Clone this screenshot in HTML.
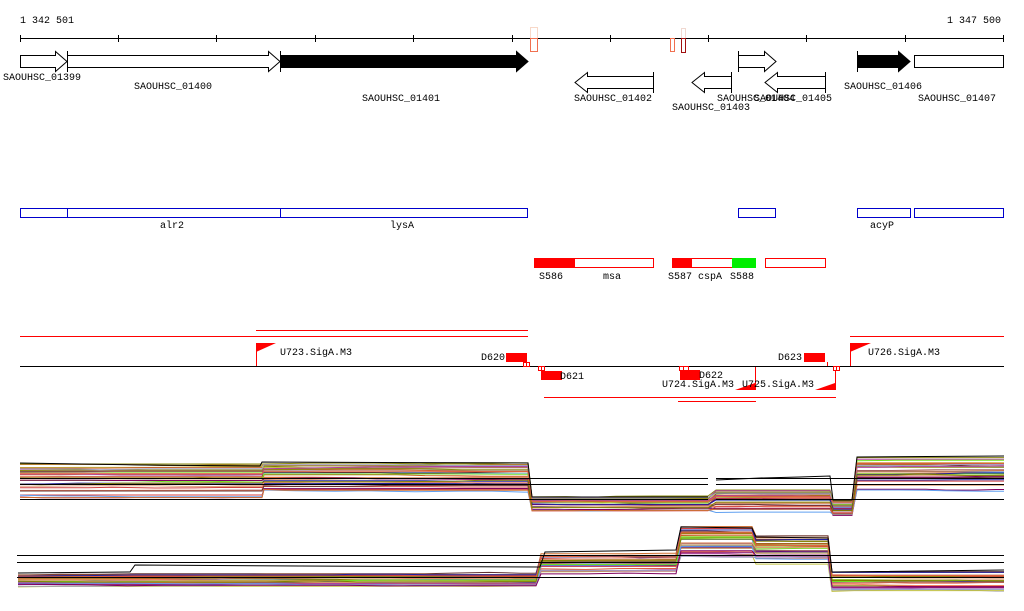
<!DOCTYPE html>
<html><head><meta charset="utf-8"><style>
html,body{margin:0;padding:0;background:#fff;}
svg{display:block;}
text{font-family:"Liberation Mono",monospace;font-size:10px;fill:#000;}
</style></head><body>
<svg id="s" width="1024" height="611" xmlns="http://www.w3.org/2000/svg">
<text x="20" y="23">1 342 501</text>
<text x="947" y="23">1 347 500</text>
<line x1="20" y1="38.5" x2="1004" y2="38.5" stroke="#000"/>
<g stroke="#000">
<line x1="20.5" y1="35" x2="20.5" y2="42"/><line x1="118.5" y1="35" x2="118.5" y2="42"/><line x1="216.5" y1="35" x2="216.5" y2="42"/><line x1="315.5" y1="35" x2="315.5" y2="42"/><line x1="413.5" y1="35" x2="413.5" y2="42"/><line x1="512.5" y1="35" x2="512.5" y2="42"/><line x1="610.5" y1="35" x2="610.5" y2="42"/><line x1="708.5" y1="35" x2="708.5" y2="42"/><line x1="806.5" y1="35" x2="806.5" y2="42"/><line x1="905.5" y1="35" x2="905.5" y2="42"/><line x1="1003.5" y1="35" x2="1003.5" y2="42"/>
</g>
<rect x="530.5" y="27.5" width="7" height="11" fill="none" stroke="#f8d8c8"/>
<rect x="530.5" y="38.5" width="7" height="13" fill="none" stroke="#f07050"/>
<rect x="670.5" y="38.5" width="4" height="13" fill="none" stroke="#f07050"/>
<rect x="681.5" y="28.5" width="4" height="10" fill="none" stroke="#f0d8d0"/>
<rect x="681.5" y="38.5" width="4" height="14" fill="none" stroke="#a01010"/>
<g stroke="#000" stroke-width="1">
<path d="M20.5,55.5H55.5V51.5L67,61.5L55.5,71.5V67.5H20.5Z" fill="#fff"/>
<path d="M67.5,55.5H268.5V51.5L280,61.5L268.5,71.5V67.5H67.5Z" fill="#fff"/>
<line x1="67.5" y1="51" x2="67.5" y2="72"/>
<path d="M280.5,55.5H516.5V51.5L528,61.5L516.5,71.5V67.5H280.5Z" fill="#000"/>
<line x1="280.5" y1="51" x2="280.5" y2="72"/>
<path d="M653.5,76.5H587.5V72.5L575,82.5L587.5,92.5V88.5H653.5Z" fill="#fff"/>
<line x1="653.5" y1="72" x2="653.5" y2="93"/>
<path d="M731.5,76.5H704.5V72.5L692,82.5L704.5,92.5V88.5H731.5Z" fill="#fff"/>
<line x1="731.5" y1="72" x2="731.5" y2="93"/>
<path d="M738.5,55.5H764.5V51.5L776,61.5L764.5,71.5V67.5H738.5Z" fill="#fff"/>
<line x1="738.5" y1="51" x2="738.5" y2="72"/>
<path d="M825.5,76.5H777.5V72.5L765,82.5L777.5,92.5V88.5H825.5Z" fill="#fff"/>
<line x1="825.5" y1="72" x2="825.5" y2="93"/>
<path d="M857.5,55.5H898.5V51.5L910,61.5L898.5,71.5V67.5H857.5Z" fill="#000"/>
<line x1="857.5" y1="51" x2="857.5" y2="72"/>
<rect x="914.5" y="55.5" width="89" height="12" fill="#fff"/>
</g>
<text x="3" y="80">SAOUHSC_01399</text>
<text x="134" y="89">SAOUHSC_01400</text>
<text x="362" y="101">SAOUHSC_01401</text>
<text x="574" y="101">SAOUHSC_01402</text>
<text x="672" y="110">SAOUHSC_01403</text>
<text x="717" y="101">SAOUHSC_01404</text>
<text x="754" y="101">SAOUHSC_01405</text>
<text x="844" y="89">SAOUHSC_01406</text>
<text x="918" y="101">SAOUHSC_01407</text>
<g fill="none" stroke="#0000cc">
<rect x="20.5" y="208.5" width="47" height="9"/><rect x="67.5" y="208.5" width="213" height="9"/><rect x="280.5" y="208.5" width="247" height="9"/>
<rect x="738.5" y="208.5" width="37" height="9"/><rect x="857.5" y="208.5" width="53" height="9"/><rect x="914.5" y="208.5" width="89" height="9"/>
</g>
<text x="160" y="228">alr2</text><text x="390" y="228">lysA</text><text x="870" y="228">acyP</text>
<rect x="534" y="258" width="41" height="10" fill="#f00"/>
<rect x="534.5" y="258.5" width="119" height="9" fill="none" stroke="#f00"/>
<rect x="672" y="258" width="20" height="10" fill="#f00"/>
<rect x="672.5" y="258.5" width="60" height="9" fill="none" stroke="#f00"/>
<rect x="732" y="258" width="24" height="10" fill="#0e0"/>
<rect x="765.5" y="258.5" width="60" height="9" fill="none" stroke="#f00"/>
<text x="539" y="279">S586</text><text x="603" y="279">msa</text><text x="668" y="279">S587</text><text x="698" y="279">cspA</text><text x="730" y="279">S588</text>
<g stroke="#f00">
<line x1="20" y1="336.5" x2="528" y2="336.5"/><line x1="256" y1="330.5" x2="528" y2="330.5"/>
<line x1="850" y1="336.5" x2="1004" y2="336.5"/>
<line x1="544" y1="397.5" x2="836" y2="397.5"/><line x1="678" y1="401.5" x2="756" y2="401.5"/>
<line x1="256.5" y1="343" x2="256.5" y2="366"/><line x1="850.5" y1="343" x2="850.5" y2="366"/>
<line x1="755.5" y1="366" x2="755.5" y2="390"/><line x1="835.5" y1="366" x2="835.5" y2="390"/>
<line x1="827.5" y1="362" x2="827.5" y2="366"/>
</g>
<line x1="20" y1="366.5" x2="1004" y2="366.5" stroke="#000"/>
<polygon points="256,343 276,343 256,352" fill="#f00"/>
<polygon points="850,343 871,343 850,352" fill="#f00"/>
<polygon points="755,383 755,390 735,390" fill="#f00"/>
<polygon points="835,383 835,390 815,390" fill="#f00"/>
<rect x="506" y="353" width="21" height="9" fill="#f00"/>
<rect x="541" y="371" width="21" height="9" fill="#f00"/>
<rect x="680" y="370" width="20" height="10" fill="#f00"/>
<rect x="804" y="353" width="21" height="9" fill="#f00"/>
<g fill="#fff" stroke="#f00">
<rect x="523.5" y="362.5" width="3" height="4"/><rect x="526.5" y="362.5" width="3" height="4"/>
<rect x="538.5" y="366.5" width="3" height="4"/><rect x="541.5" y="366.5" width="3" height="4"/>
<rect x="679.5" y="366.5" width="4" height="4"/><rect x="683.5" y="366.5" width="5" height="4"/>
<rect x="833.5" y="366.5" width="3" height="4"/><rect x="836.5" y="366.5" width="3" height="4"/>
</g>
<text x="280" y="355">U723.SigA.M3</text>
<text x="481" y="360">D620</text>
<text x="560" y="379">D621</text>
<text x="699" y="378">D622</text>
<text x="662" y="387">U724.SigA.M3</text>
<text x="742" y="387">U725.SigA.M3</text>
<text x="778" y="360">D623</text>
<text x="868" y="355">U726.SigA.M3</text>
<g id="plots"></g>
<g stroke="#000">
<line x1="20" y1="478.5" x2="708" y2="478.5"/><line x1="716" y1="478.5" x2="1004" y2="478.5"/>
<line x1="20" y1="484.5" x2="708" y2="484.5"/><line x1="716" y1="484.5" x2="1004" y2="484.5"/>
<line x1="20" y1="499.5" x2="708" y2="499.5"/><line x1="716" y1="499.5" x2="1004" y2="499.5"/>
<line x1="17" y1="555.5" x2="1004" y2="555.5"/><line x1="17" y1="562.5" x2="1004" y2="562.5"/><line x1="17" y1="577.5" x2="1004" y2="577.5"/>
</g>
</svg>
<script>
(function(){
var cols=["#c8602a","#8a8a10","#d04040","#b040a0","#60a0f0","#70e020","#a0a0c0","#603030","#d07030","#e0a080","#800060","#2020a0","#808000","#e06040","#c0c040","#a06060","#f08060","#b08030"];
var top=[[20,262,464,497],[264,528,463,490],[532,708,497,512],[716,830,490,512],[833,852,500,516],[857,1004,458,490]];
var bot=[[18,536,574,590],[541,676,553,577],[681,752,527,565],[756,828,536,568],[832,1004,572,597]];
var g=document.getElementById('plots'),ns="http://www.w3.org/2000/svg";
var seed=7;function rnd(){seed=(seed*9301+49297)%233280;return seed/233280;}
function line(pts,c,w){var p=document.createElementNS(ns,'polyline');p.setAttribute('points',pts.join(' '));p.setAttribute('fill','none');p.setAttribute('stroke',c);p.setAttribute('stroke-width',w);g.appendChild(p);}
function draw(segs,n){
 for(var i=0;i<n;i++){
  var r=rnd(),pts=[];
  segs.forEach(function(s){
   var rr=Math.min(1,Math.max(0,r+(rnd()-0.5)*0.25));
   var y=s[2]+rr*(s[3]-s[2]);
   for(var x=s[0];x<s[1];x+=20+Math.floor(rnd()*30)){
    if(rnd()<0.3)y+=(rnd()-0.5)*2;
    pts.push(x+","+y.toFixed(1));
   }
   pts.push(s[1]+","+y.toFixed(1));
  });
  line(pts,cols[i%cols.length],1);
 }
}
draw(top,32);draw(bot,32);
line(["20,463","140,465","260,466","262,462","528,463","532,497","708,497"],"#000",1);
line(["716,480","760,478","800,477","830,476","833,500","852,500","857,457","1004,456"],"#000",1);
line(["18,573","130,572","135,565","300,566","540,567","545,552","676,550","681,527","752,528","756,537","828,538","832,572","1004,570"],"#000",1);
})();
</script>
</body></html>
